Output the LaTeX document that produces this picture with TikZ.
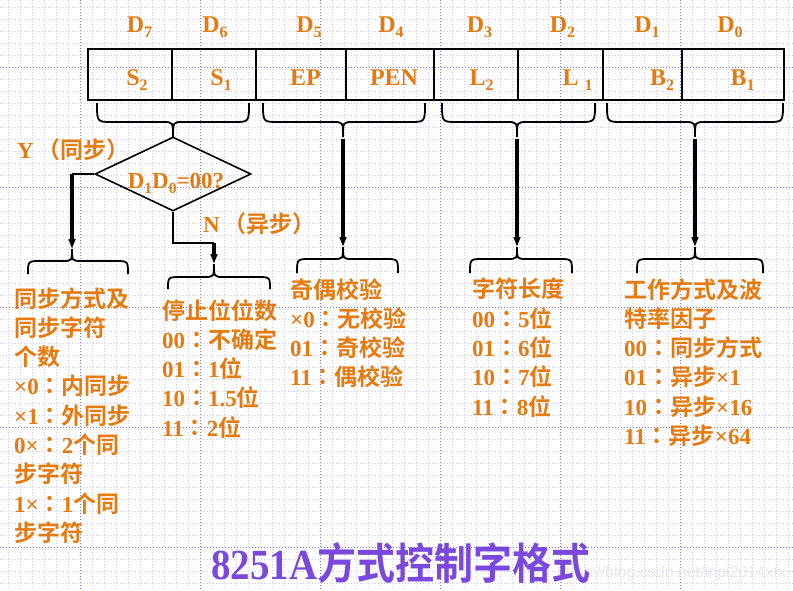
\documentclass[tikz,border=0pt]{standalone}
\usepackage{fontspec}
\setmainfont{Liberation Serif}
\newfontfamily\cjk{Noto Sans CJK SC}[BoldFont={Noto Sans CJK SC Bold}]
\newfontfamily\cjkp{Noto Sans CJK TC}[BoldFont={Noto Sans CJK TC Bold}]
\newfontfamily\wmfont{Liberation Sans}
\usetikzlibrary{arrows.meta,shapes.geometric}
\definecolor{org}{RGB}{230,122,14}
\definecolor{ttl}{RGB}{122,72,220}
\definecolor{gmin}{RGB}{200,200,242}
\definecolor{gmaj}{RGB}{118,118,232}
\definecolor{wmk}{RGB}{232,232,232}
\newcommand\zh[1]{{\cjk\bfseries #1}}
\newcommand\zp[1]{{\cjkp\bfseries #1}}
\newcommand\cl{{\cjkp\bfseries ：}}
\newcommand\sbs[1]{\raisebox{-5.5pt}{\fontsize{16}{16}\selectfont #1}}
\newcommand\sbd[1]{\raisebox{-5pt}{\fontsize{15.5}{15.5}\selectfont #1}}
\tikzset{
  gridminor/.style={draw=gmin, line width=0.8pt, dash pattern=on 1pt off 2pt},
  gridmajor/.style={draw=gmaj, line width=0.9pt, dash pattern=on 1pt off 2pt},
  cell/.style={draw=black, line width=1.6pt, minimum height=51pt, inner sep=0pt},
  bitlbl/.style={text=org, font=\fontsize{24}{24}\selectfont\bfseries, anchor=base, inner sep=0pt},
  col/.style={text=org, font=\fontsize{23}{29.3}\selectfont\bfseries, align=left, anchor=north west, inner sep=0pt},
  lbl/.style={text=org, font=\fontsize{23}{23}\selectfont\bfseries, anchor=west, inner sep=0pt},
  brace/.style={draw=black, line width=1.8pt},
  fat/.style={draw=black, line width=3.5pt, -{Triangle[length=10pt,width=6.5pt]}},
  thinln/.style={draw=black, line width=1.8pt},
}
\begin{document}
\begin{tikzpicture}[x=1pt,y=-1pt]
\useasboundingbox (0,0) rectangle (793,590);
\fill[white] (0,0) rectangle (793,590);
% grid
\foreach \x in {8,20,...,788} \draw[gridminor] (\x,0) -- (\x,590);
\foreach \y in {7,19,...,583} \draw[gridminor] (0,\y) -- (793,\y);
\foreach \x in {80,200,...,680} \draw[gridmajor] (\x,0) -- (\x,590);
\foreach \y in {67,187,307,427,547} \draw[gridmajor] (0,\y) -- (793,\y);

% register cells
\node[cell, minimum width=84pt]  (c7) at (130,74.5) {};
\node[cell, minimum width=84pt]  (c6) at (214,74.5) {};
\node[cell, minimum width=90pt]  (c5) at (301,74.5) {};
\node[cell, minimum width=88pt]  (c4) at (390,74.5) {};
\node[cell, minimum width=84pt]  (c3) at (476,74.5) {};
\node[cell, minimum width=85pt]  (c2) at (560.5,74.5) {};
\node[cell, minimum width=79pt]  (c1) at (642.5,74.5) {};
\node[cell, minimum width=102pt] (c0) at (733,74.5) {};

% bit labels
\node[bitlbl] (d7) at (139.5,32) {D\sbs{7}};
\node[bitlbl] (d6) at (215,32) {D\sbs{6}};
\node[bitlbl] (d5) at (309,32) {D\sbs{5}};
\node[bitlbl] (d4) at (391,32) {D\sbs{4}};
\node[bitlbl] (d3) at (479.5,32) {D\sbs{3}};
\node[bitlbl] (d2) at (562.5,32) {D\sbs{2}};
\node[bitlbl] (d1) at (647,32) {D\sbs{1}};
\node[bitlbl] (d0) at (730,32) {D\sbs{0}};

% cell contents
\node[bitlbl] (s2) at (137,85) {S\sbs{2}};
\node[bitlbl] (s1) at (221,85) {S\sbs{1}};
\node[bitlbl] (ep) at (305.5,85) {EP};
\node[bitlbl] (pen) at (394,85) {PEN};
\node[bitlbl] (l2) at (481.5,85) {L\sbs{2}};
\node[bitlbl] (l1) at (577.5,85) {L\hspace{6pt}\sbs{1}};
\node[bitlbl] (b2) at (662,85) {B\sbs{2}};
\node[bitlbl] (b1) at (742.5,85) {B\sbs{1}};

% upper braces
\draw[brace] (97,103) .. controls (97,122) .. (112,122) -- (163,122) .. controls (173,122) .. (173,137)
  .. controls (173,122) .. (183,122) -- (234,122) .. controls (249,122) .. (249,103);
\draw[brace] (263,103) .. controls (263,122) .. (278,122) -- (333,122) .. controls (343,122) .. (343,137)
  .. controls (343,122) .. (353,122) -- (410,122) .. controls (425,122) .. (425,103);
\draw[brace] (442,103) .. controls (442,122) .. (457,122) -- (507,122) .. controls (517,122) .. (517,137)
  .. controls (517,122) .. (527,122) -- (580,122) .. controls (595,122) .. (595,103);
\draw[brace] (607,103) .. controls (607,122) .. (622,122) -- (685,122) .. controls (695,122) .. (695,137)
  .. controls (695,122) .. (705,122) -- (768,122) .. controls (783,122) .. (783,103);

% lower braces
\draw[brace] (28,274) .. controls (28,261) .. (41,261) -- (62,261) .. controls (72,261) .. (72,249)
  .. controls (72,261) .. (82,261) -- (115,261) .. controls (128,261) .. (128,274);
\draw[brace] (168,289) .. controls (168,277) .. (181,277) -- (204,277) .. controls (214,277) .. (214,264)
  .. controls (214,277) .. (224,277) -- (257,277) .. controls (270,277) .. (270,289);
\draw[brace] (297,273) .. controls (297,259) .. (310,259) -- (333,259) .. controls (343,259) .. (343,247)
  .. controls (343,259) .. (353,259) -- (385,259) .. controls (398,259) .. (398,273);
\draw[brace] (470,273) .. controls (470,259) .. (483,259) -- (507,259) .. controls (517,259) .. (517,247)
  .. controls (517,259) .. (527,259) -- (559,259) .. controls (572,259) .. (572,273);
\draw[brace] (637,273) .. controls (637,259) .. (650,259) -- (685,259) .. controls (695,259) .. (695,247)
  .. controls (695,259) .. (705,259) -- (750,259) .. controls (763,259) .. (763,273);

% tip coordinates
\coordinate (tp) at (343,139);
\coordinate (tc) at (517,139);
\coordinate (tw) at (695,139);
\coordinate (bp) at (343,247);
\coordinate (bc) at (517,247);
\coordinate (bw) at (695,247);
\coordinate (yc) at (72,174);
\coordinate (yb) at (72,249);
\coordinate (nc) at (214,243);
\coordinate (nb) at (214,264);

% decision
\node[draw=black, diamond, line width=1.6pt, minimum width=156pt, minimum height=74pt, inner sep=0pt, aspect=2.1] (dec) at (173,174) {};
\node[text=org, font=\fontsize{23}{23}\selectfont\bfseries, anchor=base, inner sep=0pt] (dectxt) at (176,188) {D\sbd{1}D\sbd{0}=00?};

% connectors
\draw[fat] (tp) -- (bp);
\draw[fat] (tc) -- (bc);
\draw[fat] (tw) -- (bw);
\draw[thinln] (dec.west) -- (yc);
\draw[fat] (yc) -- (yb);
\draw[thinln] (dec.south) |- (nc);
\draw[fat] (nc) -- (nb);

% branch labels
\node[lbl] (ylbl) at (17,150) {Y\hspace{4pt}\zp{（同步）}};
\node[lbl] (nlbl) at (203,224) {N\hspace{4pt}\zp{（异步）}};

% description columns
\node[col] (colsync) at (14,287) {\zh{同步方式及}\\ \zh{同步字符}\\ \zh{个数}\\ ×0\cl\zh{内同步}\\ ×1\cl\zh{外同步}\\ 0×\cl 2\zh{个同}\\ \zh{步字符}\\ 1×\cl 1\zh{个同}\\ \zh{步字符}};
\node[col] (colstop) at (162,299) {\zh{停止位位数}\\ 00\cl\zh{不确定}\\ 01\cl 1\zh{位}\\ 10\cl 1.5\zh{位}\\ 11\cl 2\zh{位}};
\node[col] (colpar) at (290,278) {\zh{奇偶校验}\\ ×0\cl\zh{无校验}\\ 01\cl\zh{奇校验}\\ 11\cl\zh{偶校验}};
\node[col] (collen) at (472,278) {\zh{字符长度}\\ 00\cl 5\zh{位}\\ 01\cl 6\zh{位}\\ 10\cl 7\zh{位}\\ 11\cl 8\zh{位}};
\node[col] (colwork) at (624,278) {\zh{工作方式及波}\\ \zh{特率因子}\\ 00\cl\zh{同步方式}\\ 01\cl\zh{异步}×1\\ 10\cl\zh{异步}×16\\ 11\cl\zh{异步}×64};

% watermark and title
\node[text=wmk, font=\wmfont\fontsize{16}{16}\selectfont, anchor=west, inner sep=0pt] (wm) at (557,573) {https://blog.csdn.net/lnpi2014xtx};
\node[text=ttl, font=\fontsize{39}{39}\selectfont\bfseries, anchor=west, inner sep=0pt] (title) at (211,563) {\scalebox{1}[1.1]{8251A\zh{方式控制字格式}}};
\end{tikzpicture}
\end{document}
